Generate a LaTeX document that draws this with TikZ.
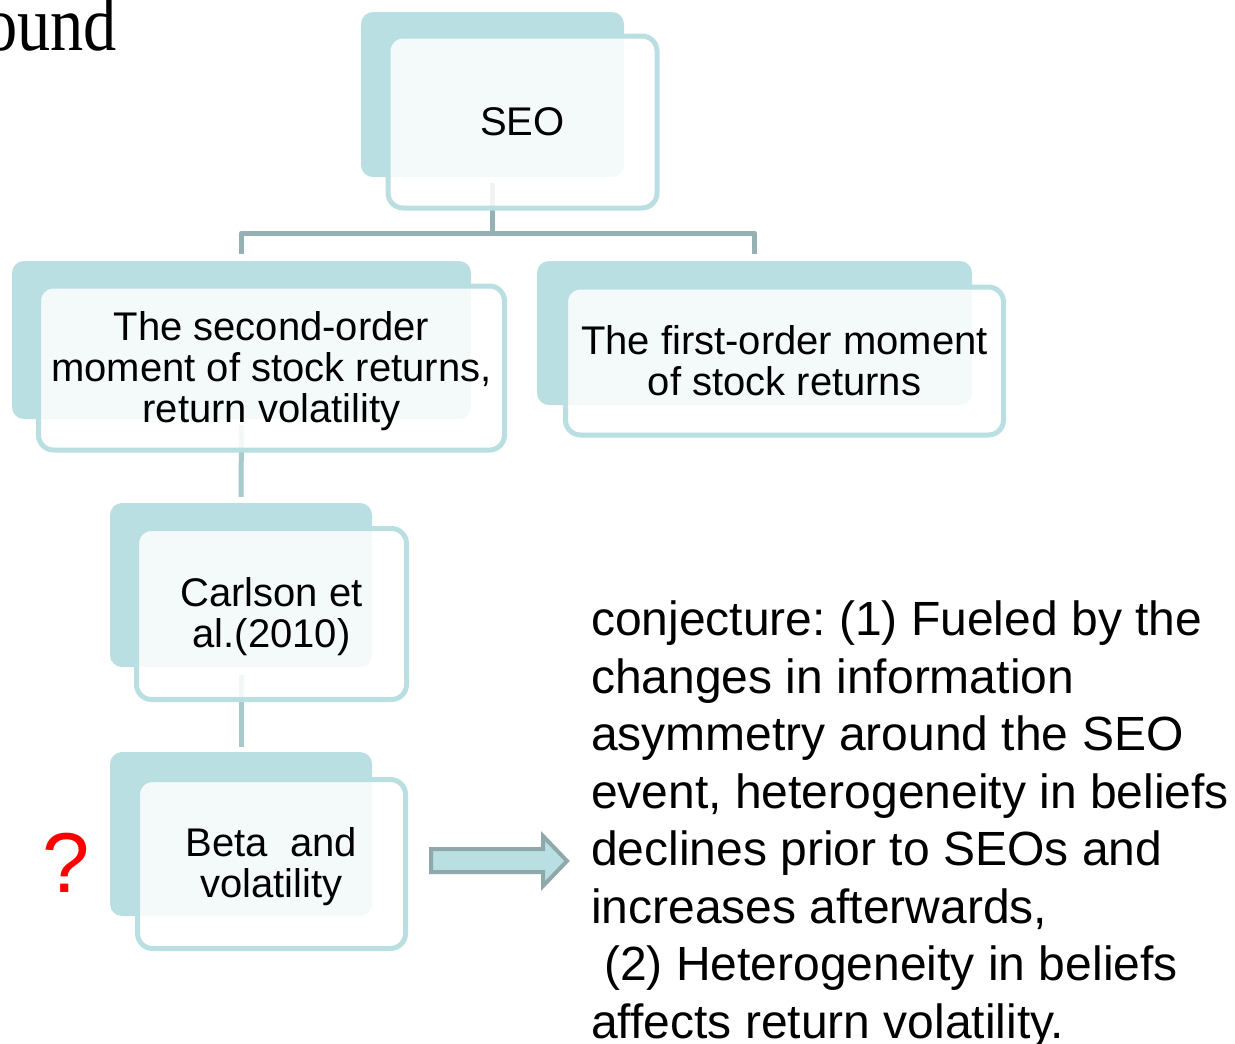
\documentclass[tikz,border=0pt]{standalone}
\usepackage{fontspec}
\usepackage{graphicx}
\setmainfont{Liberation Sans}
\newfontfamily\serifont{Liberation Serif}
\usetikzlibrary{backgrounds}
\definecolor{tealfill}{HTML}{B9DFE2}
\definecolor{connA}{HTML}{94B1B4}
\definecolor{connB}{HTML}{A8CACD}
\definecolor{arrline}{HTML}{8FA9AB}
\newcommand{\lowerstrut}{\rule{0pt}{35pt}}
\tikzset{
  backbox/.style={rectangle, rounded corners=12, fill=tealfill, draw=none, inner sep=0},
  frontbox/.style={rectangle, rounded corners=15, draw=tealfill, line width=5, fill=white, fill opacity=0.85, text opacity=1, align=center, inner sep=0, font=\fontsize{40}{41}\selectfont},
  topconn/.style={draw=connA, line width=5, line join=round, line cap=butt},
  lowconn/.style={draw=connB, line width=5, line cap=butt},
}
\begin{document}
\frenchspacing
\begin{tikzpicture}[x=1pt,y=-1pt]
\useasboundingbox (0,0) rectangle (1235,1044);
% back boxes
\node[backbox, minimum width=263, minimum height=165] (seoback) at (492.5,94.5) {};
\node[backbox, minimum width=459, minimum height=158] (secback) at (241.5,340) {};
\node[backbox, minimum width=435, minimum height=144] (firstback) at (754.5,333) {};
\node[backbox, minimum width=262, minimum height=164] (carlback) at (241,585) {};
\node[backbox, minimum width=262, minimum height=164] (betaback) at (241,834) {};
% front boxes
\node[frontbox, minimum width=269, minimum height=172] (seo) at (522.5,122) {SEO};
\node[frontbox, minimum width=466, minimum height=164] (sec) at (271.5,368) {\lowerstrut The second-order\\moment of stock returns,\\return volatility};
\node[frontbox, minimum width=438, minimum height=148] (first) at (784.5,361) {The first-order moment\\of stock returns};
\node[frontbox, minimum width=270, minimum height=171] (carl) at (271.5,614) {\lowerstrut Carlson et\\al.(2010)};
\node[frontbox, minimum width=268, minimum height=169] (beta) at (271.5,864) {\lowerstrut Beta\ \ and\\volatility};
% connectors
\begin{scope}[on background layer]
\draw[topconn, shorten <=6, shorten >=7] (seoback.south) -- (seoback.south |- 0,233) -| (secback.north);
\draw[topconn, shorten >=7] (seoback.south |- 0,233) -| (firstback.north);
\draw[lowconn, shorten <=6, shorten >=6] (secback.south) -- (carlback.north);
\draw[lowconn, shorten <=8, shorten >=5] (carlback.south) -- (betaback.north);
\end{scope}
% block arrow
\draw[draw=arrline, fill=tealfill, line width=4, line join=miter]
  (431,849) -- (543,849) -- (543,836) -- (567,861) -- (543,886) -- (543,872) -- (431,872) -- cycle;
% texts
\node[anchor=base east, inner sep=0] (ound) at (117,50) {\serifont\fontsize{78}{80}\selectfont\scalebox{0.85}[1]{ound}};
\node[anchor=base, inner sep=0, text=red] (qm) at (66,892) {\fontsize{85}{88}\selectfont ?};
\node[anchor=north west, inner sep=0, align=left, font=\fontsize{48}{57.5}\selectfont] (conj) at (591,601)
 {conjecture: (1) Fueled by the\\changes in information\\asymmetry around the SEO\\event, heterogeneity in beliefs\\declines prior to SEOs and\\increases afterwards,\\\hspace*{13pt}(2) Heterogeneity in beliefs\\affects return volatility.};
\end{tikzpicture}
\end{document}
